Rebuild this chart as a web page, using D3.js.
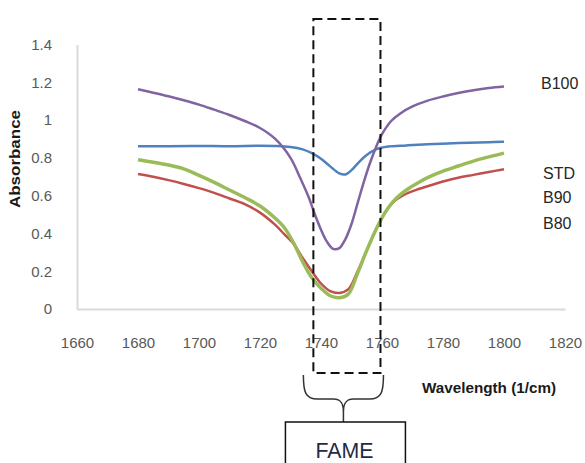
<!DOCTYPE html>
<html lang="en">
<head>
  <meta charset="UTF-8" />
  <title>FTIR absorbance</title>
  <style>
    body { margin: 0; background: #fff; }
    svg { display: block; font-family: "Liberation Sans", Arial, sans-serif; }
  </style>
  <script src="https://d3js.org/d3.v7.min.js"></script>
</head>
<body>
  <script>
    // values
    const xTicks = [1660, 1680, 1700, 1720, 1740, 1760, 1780, 1800, 1820];
    const yTicks = [0, 0.2, 0.4, 0.6, 0.8, 1, 1.2, 1.4];

    const b100 = [
      [1680, 1.163], [1685, 1.145], [1690, 1.126], [1695, 1.105], [1700, 1.082],
      [1705, 1.055], [1710, 1.027], [1715, 0.995], [1720, 0.958], [1725, 0.90],
      [1730, 0.80], [1733, 0.70], [1736, 0.59], [1738, 0.50], [1740, 0.42],
      [1742, 0.355], [1744, 0.318], [1746, 0.322], [1748, 0.37], [1750, 0.45],
      [1752, 0.56], [1754, 0.67], [1756, 0.77], [1758, 0.855], [1760, 0.925],
      [1763, 0.995], [1766, 1.035], [1770, 1.072], [1775, 1.103], [1780, 1.125],
      [1785, 1.143], [1790, 1.158], [1795, 1.17], [1800, 1.178]
    ];
    const std = [
      [1680, 0.862], [1690, 0.862], [1700, 0.863], [1710, 0.862], [1720, 0.864],
      [1725, 0.863], [1730, 0.858], [1734, 0.845], [1737, 0.825], [1740, 0.795],
      [1743, 0.755], [1746, 0.718], [1748, 0.712], [1750, 0.735], [1752, 0.77],
      [1755, 0.815], [1758, 0.845], [1762, 0.86], [1768, 0.866], [1775, 0.872],
      [1785, 0.878], [1795, 0.883], [1800, 0.885]
    ];
    const b90 = [
      [1680, 0.79], [1685, 0.777], [1690, 0.762], [1695, 0.742], [1700, 0.707],
      [1705, 0.67], [1710, 0.63], [1715, 0.59], [1720, 0.545], [1725, 0.48],
      [1728, 0.43], [1731, 0.35], [1734, 0.25], [1737, 0.165], [1740, 0.11],
      [1743, 0.07], [1746, 0.06], [1749, 0.08], [1752, 0.19], [1755, 0.31],
      [1758, 0.42], [1761, 0.51], [1764, 0.575], [1768, 0.63], [1772, 0.67],
      [1776, 0.703], [1780, 0.73], [1785, 0.757], [1790, 0.783], [1795, 0.805],
      [1800, 0.825]
    ];
    const b80 = [
      [1680, 0.715], [1685, 0.70], [1690, 0.682], [1695, 0.662], [1700, 0.64],
      [1705, 0.615], [1710, 0.585], [1715, 0.555], [1720, 0.51], [1725, 0.445],
      [1728, 0.395], [1731, 0.345], [1734, 0.27], [1737, 0.20], [1740, 0.135],
      [1743, 0.095], [1746, 0.085], [1749, 0.105], [1752, 0.20], [1755, 0.31],
      [1758, 0.42], [1761, 0.51], [1764, 0.57], [1768, 0.61], [1772, 0.635],
      [1776, 0.655], [1780, 0.675], [1785, 0.695], [1790, 0.71], [1795, 0.725],
      [1800, 0.74]
    ];

    const seriesNames = ["B80", "B90", "STD", "B100"];
    const seriesData = [b80, b90, std, b100];
    const seriesColors = ["#c0504d", "#9bbb59", "#4f81bd", "#8064a2"];
    const fameRange = [1737.5, 1759.5];

    const width = 585, height = 463;

    const svg = d3.select("body").append("svg")
      .attr("width", width)
      .attr("height", height);

    const x = d3.scaleLinear().domain([1660, 1820]).range([77, 565]);
    const y = d3.scaleLinear().domain([0, 1.4]).range([309, 44.5]);

    // axes, Excel style: grey line, no ticks
    svg.append("g")
      .attr("transform", "translate(0,309)")
      .call(d3.axisBottom(x).tickValues(xTicks).tickSize(0).tickPadding(28).tickFormat(d3.format("d")))
      .call(g => g.select(".domain").attr("stroke", "#d9d9d9").attr("stroke-width", 2))
      .selectAll("text")
      .attr("font-size", 15)
      .attr("font-family", "Liberation Sans, Arial, sans-serif")
      .attr("fill", "#595959");

    svg.append("g")
      .attr("transform", "translate(77,0)")
      .call(d3.axisLeft(y).tickValues(yTicks).tickSize(0).tickPadding(25).tickFormat(d => String(+d.toFixed(1))))
      .call(g => g.select(".domain").attr("stroke", "#d9d9d9").attr("stroke-width", 2))
      .selectAll("text")
      .attr("font-size", 15)
      .attr("font-family", "Liberation Sans, Arial, sans-serif")
      .attr("fill", "#595959");

    svg.append("text")
      .attr("transform", "translate(20,159) rotate(-90)")
      .attr("text-anchor", "middle")
      .attr("font-size", 14)
      .attr("font-weight", "bold")
      .attr("fill", "#1a1a1a")
      .attr("textLength", 98)
      .attr("lengthAdjust", "spacingAndGlyphs")
      .text("Absorbance");

    svg.append("text")
      .attr("x", 422)
      .attr("y", 393)
      .attr("font-size", 14)
      .attr("font-weight", "bold")
      .attr("fill", "#1a1a1a")
      .attr("textLength", 134)
      .attr("lengthAdjust", "spacingAndGlyphs")
      .text("Wavelength (1/cm)");

    // spectra
    const line = d3.line()
      .x(d => x(d[0]))
      .y(d => y(d[1]))
      .curve(d3.curveCatmullRom.alpha(0.5));

    svg.append("g")
      .selectAll("path")
      .data(seriesData)
      .join("path")
      .attr("d", line)
      .attr("fill", "none")
      .attr("stroke", (d, i) => seriesColors[i])
      .attr("stroke-width", (d, i) => seriesNames[i] === "B90" ? 3.5 : 2.5)
      .attr("stroke-linejoin", "round");

    // series labels at the right
    const labelY = { B100: 89, STD: 179, B90: 203, B80: 229 };
    svg.append("g")
      .selectAll("text")
      .data(seriesNames)
      .join("text")
      .attr("x", d => d === "B100" ? 541 : 543)
      .attr("y", d => labelY[d])
      .attr("font-size", 16)
      .attr("fill", "#262626")
      .text(d => d);

    // FAME annotation
    const x0 = x(fameRange[0]), x1 = x(fameRange[1]);
    svg.append("rect")
      .attr("x", x0)
      .attr("y", 19)
      .attr("width", x1 - x0)
      .attr("height", 354)
      .attr("fill", "none")
      .attr("stroke", "#111")
      .attr("stroke-width", 2)
      .attr("stroke-dasharray", "9,5");

    const bl = x0 - 10, br = x1 + 3, bm = (bl + br) / 2;
    svg.append("path")
      .attr("d", `M${bl},375 C${bl},392 ${bl + 2},399 ${bl + 14},399 L${bm - 10},399 C${bm - 2},399 ${bm},404 ${bm},412 L${bm},422
                  M${br},375 C${br},392 ${br - 2},399 ${br - 14},399 L${bm + 10},399 C${bm + 2},399 ${bm},404 ${bm},412`)
      .attr("fill", "none")
      .attr("stroke", "#333")
      .attr("stroke-width", 1.5);

    svg.append("rect")
      .attr("x", bm - 58)
      .attr("y", 422)
      .attr("width", 120)
      .attr("height", 60)
      .attr("fill", "#fff")
      .attr("stroke", "#111")
      .attr("stroke-width", 1.5);

    svg.append("text")
      .attr("x", bm + 1)
      .attr("y", 458)
      .attr("text-anchor", "middle")
      .attr("font-size", 22)
      .attr("fill", "#1f2a44")
      .attr("textLength", 58)
      .attr("lengthAdjust", "spacingAndGlyphs")
      .text("FAME");
  </script>
</body>
</html>
